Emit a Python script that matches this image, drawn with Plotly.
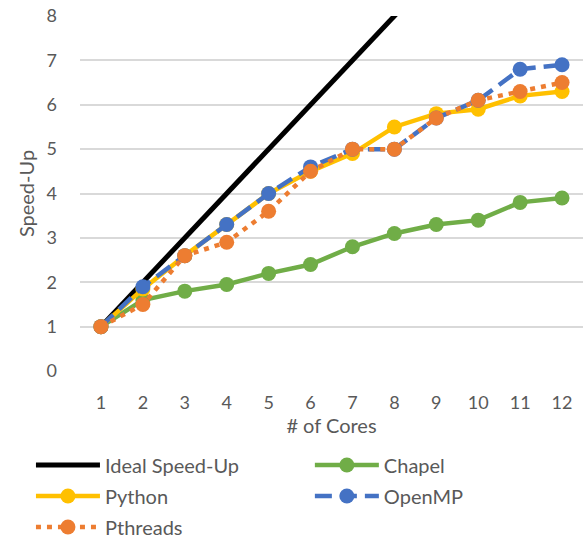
import plotly.graph_objects as go

cores = [1, 2, 3, 4, 5, 6, 7, 8, 9, 10, 11, 12]
ideal = [1, 2, 3, 4, 5, 6, 7, 8, 9, 10, 11, 12]
chapel = [1, 1.6, 1.8, 1.95, 2.2, 2.4, 2.8, 3.1, 3.3, 3.4, 3.8, 3.9]
python = [1, 1.85, 2.6, 3.3, 4.0, 4.5, 4.9, 5.5, 5.8, 5.9, 6.2, 6.3]
openmp = [1, 1.9, 2.6, 3.3, 4.0, 4.6, 5.0, 5.0, 5.7, 6.1, 6.8, 6.9]
pthreads = [1, 1.5, 2.6, 2.9, 3.6, 4.5, 5.0, 5.0, 5.7, 6.1, 6.3, 6.5]
y_ticks = [0, 1, 2, 3, 4, 5, 6, 7, 8]

FONT = "Lato"
GREY = "#595959"
FS = 18
MS = 15

fig = go.Figure()
fig.add_trace(go.Scatter(x=cores, y=ideal, name="Ideal Speed-Up", mode="lines",
                         line=dict(color="black", width=5), legend="legend",
                         legendgroup="g1"))
fig.add_trace(go.Scatter(x=cores, y=chapel, name="Chapel", mode="lines+markers",
                         line=dict(color="#70AD47", width=4.5),
                         marker=dict(size=MS, color="#70AD47"), legend="legend2",
                         legendgroup="g2"))
fig.add_trace(go.Scatter(x=cores, y=python, name="Python", mode="lines+markers",
                         line=dict(color="#FFC000", width=4.5),
                         marker=dict(size=MS, color="#FFC000"), legend="legend",
                         legendgroup="g3"))
fig.add_trace(go.Scatter(x=cores, y=openmp, name="OpenMP", mode="lines+markers",
                         line=dict(color="#4472C4", width=4.5, dash="17px,8px"),
                         marker=dict(size=MS, color="#4472C4"), legend="legend2",
                         legendgroup="g4"))
fig.add_trace(go.Scatter(x=cores, y=pthreads, name="Pthreads", mode="lines+markers",
                         line=dict(color="#ED7D31", width=4.5, dash="5px,6px"),
                         marker=dict(size=MS, color="#ED7D31"), legend="legend",
                         legendgroup="g5"))

leg_common = dict(orientation="v", yanchor="top", xanchor="left",
                  font=dict(family=FONT, size=20, color=GREY),
                  tracegroupgap=2, itemwidth=64, bgcolor="rgba(0,0,0,0)")

fig.update_layout(
    width=584, height=539,
    margin=dict(l=80, r=1, t=16, b=168, autoexpand=False),
    paper_bgcolor="white", plot_bgcolor="white",
    font=dict(family=FONT, size=FS, color=GREY),
    showlegend=True,
    legend=dict(x=-0.0975, y=-0.21, **leg_common),
    legend2=dict(x=0.457, y=-0.21, **leg_common),
    xaxis=dict(range=[0.5, 12.5], tickvals=cores, ticktext=[str(c) for c in cores],
               showgrid=False, zeroline=False, showline=False, ticks="",
               ticklabelstandoff=19,
               title=dict(text="# of Cores", standoff=0,
                          font=dict(family=FONT, size=20, color=GREY))),
    yaxis=dict(range=[0, 8], tickvals=y_ticks, showgrid=True, gridcolor="#D9D9D9",
               gridwidth=1.5, zeroline=False, showline=False, ticks="",
               ticklabelstandoff=22, ticklabeloverflow="allow",
               title=dict(text="Speed-Up", standoff=6,
                          font=dict(family=FONT, size=20, color=GREY))),
)

fig.write_html("out.html", config={"displayModeBar": False},
               post_script="document.body.style.margin='0';"
                           "document.body.style.overflow='hidden';")
